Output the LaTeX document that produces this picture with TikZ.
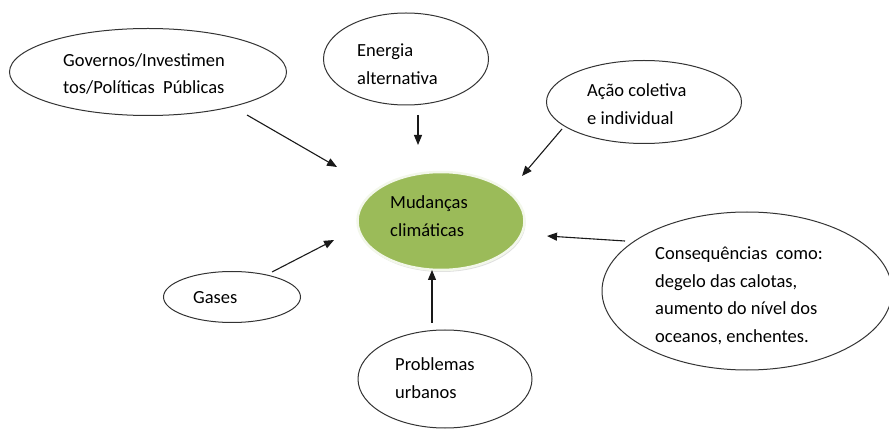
\documentclass[tikz,border=0pt]{standalone}
\usepackage{fontspec}
\setmainfont{Carlito}
\usetikzlibrary{arrows.meta,shapes.geometric,shadows}
\definecolor{olivegreen}{HTML}{9BBB59}

\begin{document}
\begin{tikzpicture}[
  x=1pt, y=-1pt,
  every node/.style={font=\fontsize{18.5}{27.5}\selectfont},
  bubble/.style={shape=ellipse,draw=black!80,line width=1pt,inner sep=0pt},
  hub/.style={shape=ellipse,fill=olivegreen,draw=white!88!olivegreen,line width=2.5pt,inner sep=0pt,
    drop shadow={opacity=0.25,shadow xshift=1pt,shadow yshift=-2pt}},
  txt/.style={anchor=west,align=left,inner sep=0pt},
  link/.style={draw=black!90,line width=1.1pt,-{Triangle[length=10pt,width=8pt]}}
]
\useasboundingbox (0,0) rectangle (889,430);

% bubbles
\node [bubble, minimum width=277pt, minimum height=87pt] (gov) at (148,72) {};
\node [bubble, minimum width=165pt, minimum height=92pt] (ene) at (406,59) {};
\node [bubble, minimum width=195pt, minimum height=83pt] (acao) at (644,102) {};
\node [hub, minimum width=167pt, minimum height=98pt] (clima) at (441,221) {};
\node [bubble, minimum width=137pt, minimum height=51pt] (gas) at (232,297) {};
\node [bubble, minimum width=174pt, minimum height=98pt] (prob) at (445,379) {};
\node [bubble, minimum width=290pt, minimum height=158pt] (cons) at (747,291) {};

% texts
\node [txt] (govtxt) at (63,74) {Governos/Investimen\\tos/Políticas\ \ Públicas};
\node [txt] (enetxt) at (357,64) {Energia\\alternativa};
\node [txt] (acaotxt) at (587,104) {Ação coletiva\\e individual};
\node [txt] (climatxt) at (390,216) {Mudanças\\climáticas};
\node [txt] (gastxt) at (193,298) {Gases};
\node [txt] (probtxt) at (395,378) {Problemas\\urbanos};
\node [txt] (constxt) at (655,296) {Consequências\ \ como:\\degelo das calotas,\\aumento do nível dos\\oceanos, enchentes.};

% arrow ends
\coordinate (govA) at (247,115);  \coordinate (govB) at (337,167);
\coordinate (eneA) at (418,115);  \coordinate (eneB) at (418,145);
\coordinate (acaoA) at (562,129); \coordinate (acaoB) at (522,176);
\coordinate (consA) at (625,241); \coordinate (consB) at (547,236);
\coordinate (gasA) at (272,272);  \coordinate (gasB) at (334,240);
\coordinate (probA) at (432,323); \coordinate (probB) at (432,270);

\draw [link] (govA) -- (govB);
\draw [link] (eneA) -- (eneB);
\draw [link] (acaoA) -- (acaoB);
\draw [link] (consA) -- (consB);
\draw [link] (gasA) -- (gasB);
\draw [link] (probA) -- (probB);
\end{tikzpicture}
\end{document}
